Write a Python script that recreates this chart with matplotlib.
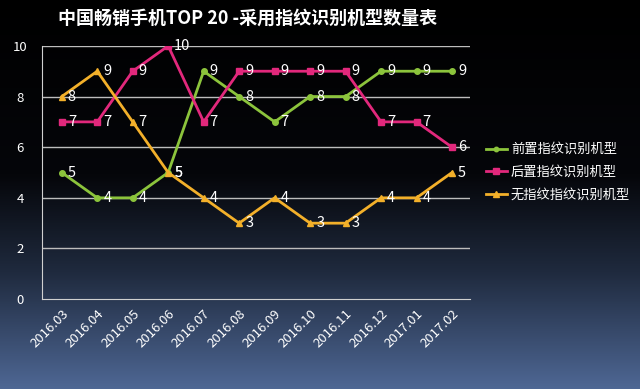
import numpy as np
import matplotlib.pyplot as plt
from matplotlib.colors import LinearSegmentedColormap

plt.rcParams['font.family'] = ['Noto Sans CJK SC', 'DejaVu Sans']

TITLE = '中国畅销手机TOP 20 -采用指纹识别机型数量表'
MONTHS = ['2016.03', '2016.04', '2016.05', '2016.06', '2016.07', '2016.08',
          '2016.09', '2016.10', '2016.11', '2016.12', '2017.01', '2017.02']
FRONT = [5, 4, 4, 5, 9, 8, 7, 8, 8, 9, 9, 9]
BACK = [7, 7, 9, 10, 7, 9, 9, 9, 9, 7, 7, 6]
NONE = [8, 9, 7, 5, 4, 3, 4, 3, 3, 4, 4, 5]
SERIES = [
    ('前置指纹识别机型', FRONT, '#8cc43c', 'o', 4),
    ('后置指纹识别机型', BACK, '#e2287c', 's', 5),
    ('无指纹指纹识别机型', NONE, '#f3b02a', '^', 5),
]

fig = plt.figure(figsize=(6.4, 3.89), dpi=100)

# background gradient: black at top, slate blue at bottom
bg = fig.add_axes([0, 0, 1, 1], zorder=-1)
cmap = LinearSegmentedColormap.from_list(
    'bg', [(0, '#000000'), (0.45, '#05060a'), (0.7, '#1f2a3e'), (1, '#4e6794')])
grad = np.linspace(0, 1, 256).reshape(-1, 1)
bg.imshow(grad, aspect='auto', cmap=cmap, extent=[0, 1, 0, 1], origin='upper')
bg.axis('off')

ax = fig.add_axes([0.066, 0.231, 0.668, 0.651])
ax.patch.set_alpha(0)
x = np.arange(len(MONTHS))

for y in [2, 4, 6, 8, 10]:
    ax.axhline(y, color='#bdbdbd', linewidth=1.0, zorder=1)

for name, vals, color, marker, ms in SERIES:
    ax.plot(x, vals, color=color, marker=marker, markersize=ms,
            linewidth=2, label=name, zorder=3)
    for xi, v in zip(x, vals):
        ax.text(xi + 0.17, v, str(v), color='white', fontsize=10.5,
                va='center', ha='left', zorder=4)

ax.set_xlim(-0.55, 11.5)
ax.set_ylim(0, 10)
ax.set_yticks([0, 2, 4, 6, 8, 10])
ax.set_xticks(x)
ax.set_xticklabels(MONTHS, rotation=45, ha='right', rotation_mode='anchor')
ax.tick_params(colors='white', length=0, labelsize=9.5)
ax.tick_params(axis='y', pad=16)
ax.tick_params(axis='x', pad=6)
for lbl in ax.get_yticklabels():
    lbl.set_horizontalalignment('center')
for s in ['top', 'right']:
    ax.spines[s].set_visible(False)
for s in ['left', 'bottom']:
    ax.spines[s].set_color('#d0d0d0')

leg = ax.legend(loc='center left', bbox_to_anchor=(1.01, 0.5), frameon=False,
                fontsize=9.5, handlelength=1.6, handletextpad=0.3,
                labelspacing=0.75, markerscale=0.8)
for t in leg.get_texts():
    t.set_color('white')

fig.text(0.387, 0.953, TITLE, color='white', fontsize=13, fontweight='bold',
         ha='center', va='center')

fig.savefig('out.png', dpi=100)
